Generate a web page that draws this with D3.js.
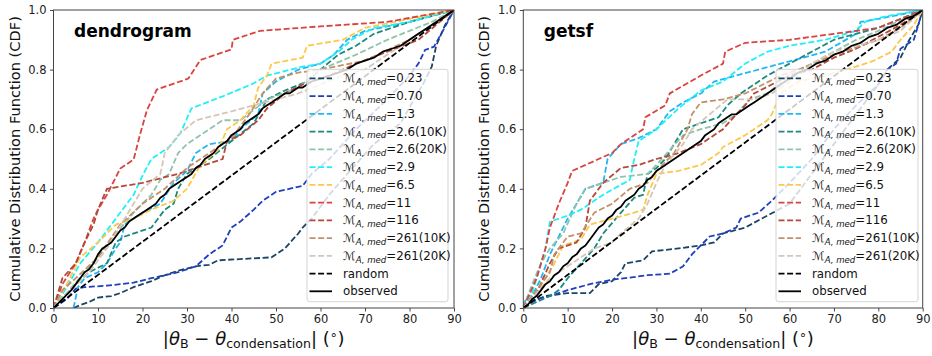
<!DOCTYPE html>
<html><head><meta charset="utf-8">
<script src="https://cdn.jsdelivr.net/npm/d3@7"></script>
<style>body{margin:0;background:#fff}svg{display:block;font-family:"DejaVu Sans",sans-serif}</style>
</head><body><svg id="c" width="932" height="356"></svg>
<script>
const xTicks = [0,10,20,30,40,50,60,70,80,90];
const yTicks = [0,0.2,0.4,0.6,0.8,1.0];
const panelTitles = ["dendrogram","getsf"];
const seriesLabels = ["0.23","0.70","1.3","2.6(10K)","2.6(20K)","2.9","6.5","11","116","261(10K)","261(20K)"];
const seriesColors = ["#1b4566","#1f3fbd","#22b6f2","#1a8a80","#8fc3aa","#1ff0f6","#fcc84c","#d9433f","#b3483b","#c29169","#d5c6b8"];
const randomLine = [[0,0],[90,1]];

// dendrogram panel
const d_023 = [[4.5,0],[6,0.01],[8,0.02],[10,0.035],[13,0.04],[15,0.05],[18,0.07],[20,0.08],[22,0.09],[25,0.11],[28,0.125],[32,0.14],[35,0.145],[37,0.16],[43,0.165],[49,0.17],[52,0.2],[55,0.25],[56,0.27],[58,0.3],[62,0.38],[66,0.45],[72,0.55],[78,0.62],[81,0.7],[83,0.75],[85,0.81],[86,0.88],[88,0.95],[90,1]];
const d_070 = [[0,0],[3,0.03],[5,0.065],[7,0.07],[12,0.075],[18,0.085],[22,0.1],[28,0.12],[32,0.14],[35,0.18],[38,0.21],[40,0.27],[42,0.29],[45,0.33],[47,0.36],[50,0.39],[56,0.41],[58,0.45],[62,0.5],[68,0.6],[75,0.7],[80,0.78],[82,0.82],[83.5,0.866],[85.5,0.877],[87.5,0.93],[90,1]];
const d_13 = [[4.5,0],[5.5,0.07],[7,0.1],[10,0.12],[12,0.15],[14,0.2],[15,0.22],[16,0.28],[20,0.32],[24,0.35],[27,0.42],[30,0.46],[32,0.52],[35,0.55],[40,0.56],[42,0.6],[46,0.65],[47,0.72],[50,0.76],[55,0.8],[60,0.82],[63,0.85],[66,0.9],[70,0.93],[80,0.96],[90,1]];
const d_26a = [[0,0],[3,0.05],[5,0.08],[8,0.12],[12,0.15],[14,0.22],[16,0.24],[22,0.27],[25,0.33],[27,0.35],[28,0.4],[30,0.45],[35,0.5],[40,0.56],[45,0.62],[48,0.7],[52,0.73],[57,0.76],[60,0.8],[64,0.85],[68,0.88],[72,0.92],[80,0.96],[90,1]];
const d_26b = [[0,0],[3,0.05],[7,0.12],[10,0.17],[14,0.25],[18,0.32],[22,0.38],[24,0.43],[26,0.45],[28,0.52],[30,0.55],[35,0.6],[38,0.63],[42,0.63],[48,0.7],[55,0.74],[60,0.8],[68,0.85],[75,0.9],[80,0.93],[85,0.96],[90,1]];
const d_29 = [[0,0],[3,0.07],[6,0.15],[10,0.22],[14,0.3],[18,0.38],[20.2,0.45],[22,0.5],[26,0.54],[28.5,0.586],[31,0.67],[38,0.71],[45,0.754],[48,0.78],[56,0.81],[60,0.82],[64,0.86],[67,0.9],[72,0.94],[80,0.96],[90,1]];
const d_65 = [[0,0],[3,0.08],[6,0.17],[10,0.22],[14,0.28],[18,0.3],[22,0.33],[27,0.36],[30,0.4],[33,0.48],[37,0.53],[39,0.6],[42,0.63],[45,0.68],[46,0.74],[48,0.78],[49,0.82],[56,0.84],[57,0.88],[65,0.9],[70,0.94],[80,0.97],[90,1]];
const d_11 = [[0,0],[2,0.08],[5,0.15],[7,0.22],[9,0.3],[10,0.33],[12,0.38],[15,0.468],[18,0.498],[19.5,0.585],[21,0.664],[23.2,0.733],[30.3,0.77],[33,0.832],[40,0.868],[40.3,0.9],[46.4,0.93],[60,0.945],[75,0.96],[90,1]];
const d_116 = [[0,0],[2,0.1],[5,0.15],[7,0.22],[9,0.28],[10,0.33],[12,0.4],[20,0.42],[28,0.45],[32,0.47],[38,0.5],[39,0.56],[42,0.58],[46,0.63],[48,0.67],[52,0.72],[56,0.75],[62,0.78],[68,0.82],[75,0.86],[82,0.9],[90,1]];
const d_261a = [[0,0],[2,0.06],[5,0.1],[10,0.17],[15,0.28],[20,0.35],[25,0.4],[30,0.47],[35,0.52],[40,0.57],[44,0.65],[47,0.72],[50,0.77],[55,0.79],[60,0.8],[70,0.83],[80,0.9],[90,1]];
const d_261b = [[0,0],[3,0.05],[8,0.12],[12,0.2],[16,0.3],[20,0.4],[24,0.45],[25,0.52],[28,0.58],[32,0.63],[40,0.66],[45,0.68],[50,0.7],[55,0.72],[60,0.75],[65,0.78],[70,0.8],[75,0.85],[80,0.9],[85,0.95],[90,1]];
const d_obs = [[0,0],[2,0.03],[4,0.06],[5,0.08],[6,0.1],[7,0.12],[8,0.13],[9,0.15],[10,0.18],[11,0.2],[12,0.21],[13,0.22],[14,0.24],[15,0.26],[16,0.27],[17,0.29],[18,0.3],[19,0.31],[20,0.32],[21,0.33],[22,0.34],[23,0.35],[24,0.37],[25,0.38],[26,0.4],[27,0.41],[28,0.42],[29,0.43],[30,0.44],[31,0.45],[32,0.47],[33,0.48],[34,0.5],[35,0.51],[36,0.52],[37,0.54],[38,0.55],[39,0.56],[40,0.58],[41,0.59],[42,0.6],[43,0.62],[44,0.63],[45,0.64],[46,0.65],[47,0.67],[48,0.68],[49,0.69],[50,0.7],[51,0.71],[52,0.72],[53,0.72],[54,0.73],[55,0.74],[56,0.74],[57,0.75],[58,0.76],[60,0.77],[62,0.78],[64,0.79],[66,0.8],[68,0.82],[70,0.83],[72,0.84],[74,0.86],[76,0.87],[78,0.88],[80,0.9],[82,0.92],[84,0.94],[86,0.96],[88,0.98],[90,1]];

// getsf panel
const g_023 = [[0,0],[2,0.02],[5,0.04],[10,0.05],[15,0.05],[17,0.08],[20,0.09],[22,0.12],[23,0.15],[27,0.16],[29,0.19],[35,0.2],[40,0.21],[43,0.22],[45,0.25],[50,0.27],[55,0.31],[60,0.35],[65,0.45],[70,0.55],[75,0.65],[80,0.75],[82,0.8],[85,0.84],[87,0.9],[89,0.95],[90,1]];
const g_070 = [[0,0],[3,0.03],[6,0.04],[10,0.06],[15,0.08],[20,0.095],[23,0.1],[28,0.11],[33,0.115],[36,0.14],[38,0.18],[40,0.21],[42,0.24],[45,0.25],[48,0.27],[49,0.3],[53,0.32],[56,0.36],[60,0.42],[65,0.5],[70,0.6],[75,0.68],[80,0.75],[82,0.8],[84,0.82],[85,0.87],[88,0.9],[89,0.95],[90,1]];
const g_13 = [[0,0.01],[1,0.04],[2,0.04],[4,0.1],[6,0.18],[8,0.24],[10,0.3],[12,0.35],[14,0.4],[18,0.42],[19,0.5],[22,0.55],[26,0.57],[30,0.6],[33,0.66],[36,0.69],[40,0.72],[43,0.76],[48,0.78],[53,0.8],[58,0.82],[63,0.84],[68,0.86],[75,0.92],[76,0.96],[80,0.97],[90,1]];
const g_26a = [[0,0],[3,0.02],[6,0.04],[8,0.06],[10,0.1],[13,0.15],[16,0.2],[18,0.25],[22,0.32],[25,0.37],[27,0.38],[28,0.45],[30,0.47],[32,0.5],[34,0.55],[36,0.6],[40,0.62],[44,0.64],[46,0.68],[49,0.72],[52,0.75],[55,0.78],[60,0.82],[65,0.86],[70,0.9],[80,0.94],[90,1]];
const g_26b = [[0,0],[2,0.08],[4,0.15],[6,0.2],[9,0.25],[12,0.35],[14,0.4],[18,0.42],[22,0.44],[28,0.45],[30,0.48],[33,0.53],[36,0.58],[40,0.6],[45,0.62],[48,0.65],[51,0.7],[55,0.72],[60,0.78],[65,0.82],[70,0.86],[75,0.9],[80,0.93],[90,1]];
const g_29 = [[0,0],[2,0.05],[5,0.2],[6,0.29],[10,0.31],[13,0.33],[18,0.38],[24,0.43],[25,0.5],[26,0.56],[30,0.6],[35,0.67],[40,0.73],[45,0.76],[50,0.82],[55,0.86],[60,0.88],[68,0.9],[75,0.93],[77,0.96],[82,0.98],[90,1]];
const g_65 = [[0,0],[3,0.05],[5,0.1],[7,0.15],[8,0.18],[9,0.21],[13,0.23],[15,0.28],[20,0.3],[25,0.32],[27,0.33],[28,0.38],[30,0.45],[35,0.46],[40,0.48],[44,0.52],[45,0.54],[50,0.58],[55,0.63],[56,0.65],[58,0.72],[62,0.76],[68,0.78],[75,0.81],[79,0.83],[83,0.86],[85,0.9],[88,0.95],[90,1]];
const g_11 = [[0,0],[3,0.1],[5,0.2],[6,0.27],[8,0.35],[10,0.42],[11,0.46],[20,0.52],[22,0.55],[27,0.6],[27.5,0.64],[32,0.68],[33,0.72],[40,0.78],[45,0.82],[45.5,0.86],[50,0.89],[60,0.9],[70,0.92],[80,0.94],[90,1]];
const g_116 = [[0,0],[3,0.05],[6,0.15],[8,0.2],[12,0.22],[14,0.27],[15,0.36],[18,0.42],[22,0.47],[26,0.48],[30,0.5],[35,0.52],[40,0.55],[45,0.6],[48,0.65],[50,0.68],[52,0.72],[56,0.75],[60,0.78],[65,0.8],[70,0.84],[75,0.87],[80,0.91],[85,0.95],[90,1]];
const g_261a = [[0,0],[3,0.06],[6,0.12],[7,0.18],[10,0.24],[13,0.25],[16,0.32],[20,0.35],[24,0.4],[28,0.42],[30,0.46],[34,0.52],[37,0.6],[38,0.65],[40,0.69],[45,0.7],[50,0.72],[54,0.75],[58,0.78],[62,0.8],[70,0.85],[80,0.9],[85,0.94],[90,1]];
const g_261b = [[0,0],[3,0.05],[6,0.1],[10,0.14],[13,0.17],[16,0.2],[20,0.22],[22,0.25],[26,0.3],[28,0.35],[30,0.42],[32,0.48],[36,0.55],[38,0.6],[42,0.65],[46,0.7],[52,0.7],[56,0.72],[60,0.76],[65,0.82],[70,0.86],[75,0.88],[80,0.9],[85,0.93],[90,1]];
const g_obs = [[0,0],[1,0.01],[2,0.03],[3,0.04],[4,0.06],[5,0.08],[6,0.09],[7,0.11],[8,0.12],[9,0.14],[10,0.15],[11,0.17],[12,0.18],[13,0.2],[14,0.21],[15,0.23],[16,0.25],[17,0.27],[18,0.28],[19,0.3],[20,0.31],[21,0.33],[22,0.34],[23,0.36],[24,0.37],[25,0.38],[26,0.4],[27,0.41],[28,0.43],[29,0.44],[30,0.46],[31,0.47],[32,0.48],[33,0.49],[34,0.5],[35,0.51],[36,0.52],[37,0.53],[38,0.54],[39,0.55],[40,0.56],[41,0.58],[42,0.59],[43,0.6],[44,0.62],[45,0.63],[46,0.64],[47,0.65],[48,0.65],[49,0.66],[50,0.67],[51,0.68],[52,0.69],[53,0.7],[54,0.71],[55,0.72],[56,0.73],[57,0.74],[58,0.75],[59,0.76],[60,0.77],[62,0.79],[64,0.8],[66,0.82],[68,0.83],[70,0.85],[72,0.86],[74,0.88],[76,0.89],[78,0.91],[80,0.92],[82,0.94],[84,0.95],[86,0.97],[88,0.98],[90,1]];

const panelSeries = [
  [d_023,d_070,d_13,d_26a,d_26b,d_29,d_65,d_11,d_116,d_261a,d_261b],
  [g_023,g_070,g_13,g_26a,g_26b,g_29,g_65,g_11,g_116,g_261a,g_261b]
];
const panelObserved = [d_obs, g_obs];

const svg = d3.select("#c");
const panels = [
  {x0:53.5, x1:454, y0:10, y1:308, ylabX:15, legX:307, legW:141},
  {x0:523.3, x1:922.7, y0:10, y1:308, ylabX:484, legX:776, legW:142}
];
const dash = "6,2.6";

panels.forEach((p, pi) => {
  const x = d3.scaleLinear().domain([0,90]).range([p.x0,p.x1]);
  const y = d3.scaleLinear().domain([0,1]).range([p.y1,p.y0]);
  const g = svg.append("g");
  const clipId = "clip"+pi;
  g.append("clipPath").attr("id",clipId).append("rect")
    .attr("x",p.x0).attr("y",p.y0).attr("width",p.x1-p.x0).attr("height",p.y1-p.y0);
  const line = d3.line().x(d=>x(d[0])).y(d=>y(d[1]));
  const plot = g.append("g").attr("clip-path",`url(#${clipId})`);
  panelSeries[pi].forEach((s,i) => {
    plot.append("path").attr("d",line(s)).attr("fill","none")
      .attr("stroke",seriesColors[i]).attr("stroke-width",1.8).attr("stroke-dasharray",dash);
  });
  plot.append("path").attr("d",line(randomLine)).attr("fill","none")
    .attr("stroke","#000").attr("stroke-width",1.8).attr("stroke-dasharray",dash);
  plot.append("path").attr("d",line(panelObserved[pi])).attr("fill","none")
    .attr("stroke","#000").attr("stroke-width",1.8).attr("stroke-linejoin","round");

  // axes
  const xa = g.append("g").attr("transform",`translate(0,${p.y1})`)
    .call(d3.axisBottom(x).tickValues(xTicks).tickSize(3.5).tickPadding(3.5).tickFormat(d3.format("d")));
  const ya = g.append("g").attr("transform",`translate(${p.x0},0)`)
    .call(d3.axisLeft(y).tickValues(yTicks).tickSize(3.5).tickPadding(3.5).tickFormat(d3.format(".1f")));
  [xa,ya].forEach(a=>{
    a.select(".domain").remove();
    a.selectAll("text").attr("font-size",11.5).attr("fill","#222").attr("font-family","DejaVu Sans");
    a.selectAll("line").attr("stroke","#333").attr("stroke-width",0.9);
  });
  g.append("rect").attr("x",p.x0).attr("y",p.y0).attr("width",p.x1-p.x0).attr("height",p.y1-p.y0)
    .attr("fill","none").attr("stroke","#444").attr("stroke-width",1);

  // title
  g.append("text").attr("x",p.x0+20.5).attr("y",37).attr("font-size",17).attr("font-weight","bold")
    .attr("fill","#000").text(panelTitles[pi]);

  // y label
  g.append("text").attr("transform",`translate(${p.ylabX+5},${(p.y0+p.y1)/2}) rotate(-90)`)
    .attr("text-anchor","middle").attr("font-size",14.6).attr("fill","#111")
    .text("Cumulative Distribution Function (CDF)");

  // x label
  const xl = g.append("text").attr("x",(p.x0+p.x1)/2).attr("y",345).attr("text-anchor","middle")
    .attr("font-size",18).attr("fill","#111");
  xl.append("tspan").text("|");
  xl.append("tspan").attr("font-style","italic").text("θ");
  xl.append("tspan").attr("font-size",12.6).attr("dy",3).text("B");
  xl.append("tspan").attr("dy",-3).text(" − ");
  xl.append("tspan").attr("font-style","italic").text("θ");
  xl.append("tspan").attr("font-size",12.6).attr("dy",3).text("condensation");
  xl.append("tspan").attr("dy",-3).text("| (");
  xl.append("tspan").attr("font-size",12.6).attr("dy",-6).text("∘");
  xl.append("tspan").attr("dy",6).text(")");

  // legend
  const leg = g.append("g");
  leg.append("rect").attr("x",p.legX).attr("y",69.3).attr("width",p.legW).attr("height",232.4)
    .attr("rx",2.5).attr("fill","#fff").attr("fill-opacity",0.8).attr("stroke","#d4d4d4").attr("stroke-width",1);
  const entries = seriesLabels.map((l,i)=>({label:l,color:seriesColors[i],dashed:true,math:true}))
    .concat([{label:"random",color:"#000",dashed:true,math:false},{label:"observed",color:"#000",dashed:false,math:false}]);
  entries.forEach((e,i)=>{
    const cy = 78.3 + i*17.75;
    const hx = p.legX+2.5;
    leg.append("line").attr("x1",hx).attr("x2",hx+22.5).attr("y1",cy).attr("y2",cy)
      .attr("stroke",e.color).attr("stroke-width",1.8).attr("stroke-dasharray",e.dashed?dash:null);
    const t = leg.append("text").attr("x",hx+33.5).attr("y",cy+4).attr("font-size",11.8).attr("fill","#111");
    if(e.math){
      t.append("tspan").text("ℳ");
      t.append("tspan").attr("font-size",8.6).attr("font-style","italic").attr("dy",2.8).text("A, med");
      t.append("tspan").attr("dy",-2.8).text("="+e.label);
    } else t.text(e.label);
  });
});
</script></body></html>
